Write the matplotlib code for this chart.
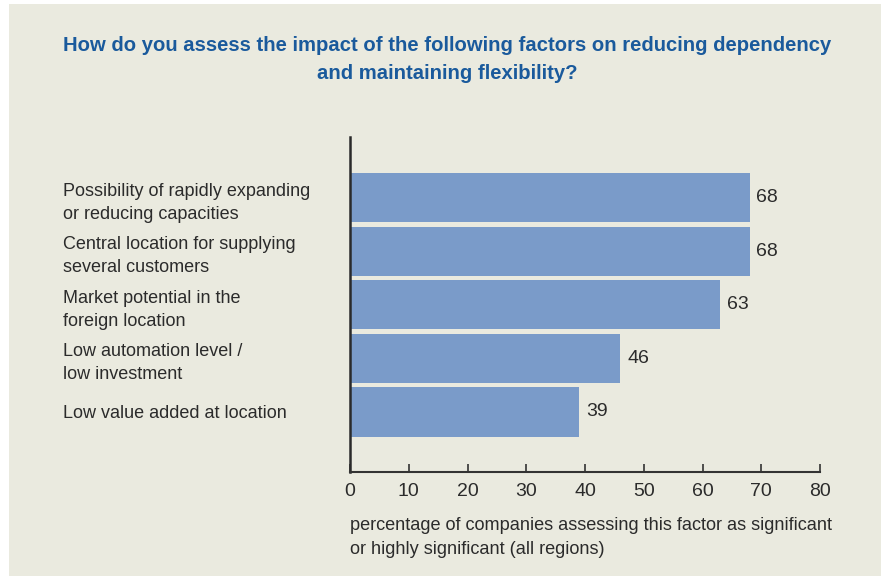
import matplotlib.pyplot as plt
from matplotlib.patches import Rectangle

factors = ['Possibility of rapidly expanding\nor reducing capacities',
           'Central location for supplying\nseveral customers',
           'Market potential in the\nforeign location',
           'Low automation level /\nlow investment',
           'Low value added at location']
shares = [68, 68, 63, 46, 39]
x_ticks = [0, 10, 20, 30, 40, 50, 60, 70, 80]

bg = '#eaeadf'
bar_color = '#7a9bc9'
text_color = '#2b2b2b'
title_color = '#1a5a9c'

plt.rcParams['font.family'] = ['Liberation Sans', 'DejaVu Sans']

fig = plt.figure(figsize=(8.89, 5.76), dpi=100, facecolor='white')
# beige panel behind everything
fig.patches.append(Rectangle((9 / 889, 0), 872 / 889, 572 / 576, transform=fig.transFigure,
                             facecolor=bg, edgecolor='none', zorder=-1))

ax = fig.add_axes([350 / 889, 1 - 472 / 576, 470 / 889, 335 / 576])
ax.set_facecolor('none')

pos = list(range(len(factors)))
bars = ax.barh(pos, shares, height=0.92, color=bar_color)
ax.bar_label(bars, labels=[str(v) for v in shares], padding=5, fontsize=14, color=text_color)

ax.set_xlim(0, 80)
ax.set_ylim(5.12, -1.13)
ax.set_xticks(x_ticks)
ax.tick_params(axis='x', direction='in', length=6, width=1.2, color='#333333',
               labelsize=14, labelcolor=text_color, pad=8)
ax.set_yticks(pos)
ax.set_yticklabels(factors, ha='left', fontsize=13, color=text_color, linespacing=1.47)
ax.tick_params(axis='y', length=0, pad=287 * 0.72)

for side in ['top', 'right']:
    ax.spines[side].set_visible(False)
ax.spines['left'].set_linewidth(1.8)
ax.spines['left'].set_color('#2a2a2a')
ax.spines['bottom'].set_linewidth(1.5)
ax.spines['bottom'].set_color('#333333')

fig.text(447 / 889, 1 - 59.5 / 576,
         'How do you assess the impact of the following factors on reducing dependency\nand maintaining flexibility?',
         ha='center', va='center', fontsize=14.6, fontweight='bold', color=title_color, linespacing=1.58)

fig.text(350 / 889, 1 - 537.5 / 576,
         'percentage of companies assessing this factor as significant\nor highly significant (all regions)',
         ha='left', va='center', fontsize=13.1, color=text_color, linespacing=1.6)

fig.savefig('out.png', dpi=100, facecolor='white')
